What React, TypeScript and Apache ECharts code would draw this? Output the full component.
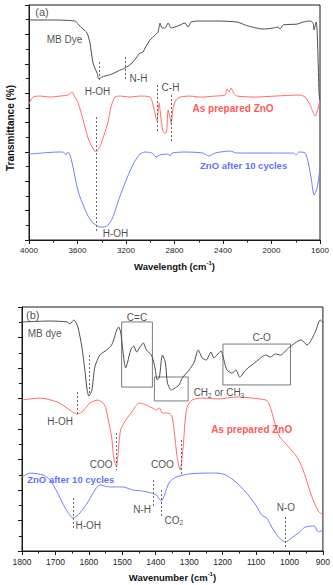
import React, { useEffect, useRef } from "react";
import * as echarts from "echarts";

const FONT = '"Liberation Sans", Arial, Helvetica, sans-serif';

// ---------- Panel (a): wavelength (cm-1) vs transmittance (a.u.) ----------
const mbDyeA: [number, number][] = [
  [4000, 14.98], [3827, 14.98], [3620, 14.91], [3596, 14.7], [3554, 14.36], [3521, 14.09],
  [3497, 13.41], [3472, 12.05], [3439, 11.37], [3422, 10.96], [3398, 11.1], [3373, 11.16],
  [3315, 11.3], [3266, 11.5], [3208, 11.71], [3183, 11.84], [3150, 12.05], [3117, 12.39],
  [3084, 12.73], [3060, 12.8], [3043, 13.07], [3002, 13.61], [2960, 13.95], [2936, 14.16],
  [2919, 14.77], [2903, 14.43], [2878, 14.43], [2853, 14.77], [2828, 14.43], [2796, 14.5],
  [2754, 14.64], [2713, 14.77], [2688, 14.5], [2663, 14.84], [2589, 14.91], [2465, 14.91],
  [2284, 14.84], [2218, 14.64], [2160, 14.5], [2069, 14.36], [1987, 14.43], [1946, 14.5],
  [1929, 14.36], [1904, 14.64], [1789, 14.7], [1739, 14.84], [1682, 14.91], [1657, 14.77],
  [1649, 14.3], [1632, 14.84], [1624, 14.3], [1616, 12.25], [1607, 9.87], [1600, 9.53],
];
const zno0A: [number, number][] = [
  [4000, 9.26], [3967, 9.73], [3909, 9.8], [3827, 9.73], [3744, 9.8], [3678, 9.87],
  [3645, 10.07], [3621, 9.73], [3596, 9.33], [3571, 8.71], [3538, 7.69], [3513, 6.94],
  [3480, 6.33], [3447, 5.99], [3414, 6.4], [3381, 7.15], [3348, 8.03], [3324, 9.05],
  [3291, 9.73], [3249, 9.8], [3167, 9.73], [3084, 9.8], [3002, 9.73], [2977, 9.19],
  [2952, 8.3], [2944, 8.1], [2936, 8.71], [2927, 9.33], [2919, 8.85], [2903, 7.76],
  [2886, 7.28], [2870, 7.28], [2861, 7.83], [2853, 8.85], [2837, 8.3], [2828, 7.96],
  [2812, 8.98], [2787, 9.53], [2754, 9.73], [2672, 9.8], [2589, 9.73], [2465, 9.8],
  [2383, 9.87], [2366, 10.28], [2350, 10.07], [2333, 10.35], [2309, 9.94], [2284, 9.8],
  [2136, 9.73], [1971, 9.8], [1764, 9.87], [1723, 9.73], [1690, 9.33], [1665, 8.85],
  [1640, 8.44], [1624, 8.71], [1607, 9.26], [1600, 9.53],
];
const zno10A: [number, number][] = [
  [4000, 5.85], [3893, 5.92], [3761, 5.99], [3720, 5.99], [3695, 5.79], [3678, 5.99],
  [3662, 5.79], [3637, 4.97], [3604, 3.61], [3579, 2.93], [3546, 2.25], [3513, 1.63],
  [3480, 1.23], [3447, 1.02], [3414, 0.88], [3381, 0.88], [3348, 1.02], [3315, 1.43],
  [3282, 2.18], [3249, 3.0], [3208, 3.88], [3167, 4.7], [3126, 5.38], [3084, 5.85],
  [3043, 5.99], [2985, 5.92], [2952, 5.65], [2919, 5.79], [2853, 5.85], [2837, 5.72],
  [2820, 5.92], [2713, 5.99], [2565, 5.92], [2515, 5.72], [2466, 5.92], [2342, 6.06],
  [2284, 5.92], [2012, 5.92], [1822, 5.92], [1797, 5.79], [1772, 5.99], [1723, 5.92],
  [1698, 5.31], [1673, 4.22], [1649, 3.06], [1624, 3.54], [1600, 4.9],
];
// dotted guide lines: [wavenumber, t from, t to]
const guidesA: [number, number, number][] = [
  [3422, 12.12, 10.75], [3208, 12.46, 10.89], [2944, 10.55, 7.35], [2828, 9.87, 6.67],
  [3443, 8.37, 0.54],
];
const xTicksA = { min: 1600, max: 4000, step: 400 };

// ---------- Panel (b): wavenumber (cm-1) ----------
const mbDyeB: [number, number][] = [
  [1800, 15.02], [1716, 15.08], [1665, 15.02], [1657, 14.89], [1645, 15.15], [1633, 14.69],
  [1621, 13.38], [1612, 11.87], [1606, 10.69], [1600, 10.16], [1591, 10.56], [1582, 12.07],
  [1567, 12.85], [1547, 13.18], [1532, 13.51], [1523, 14.03], [1517, 14.49], [1511, 14.69],
  [1505, 14.36], [1502, 13.84], [1496, 12.72], [1490, 12.0], [1484, 12.39], [1475, 13.18],
  [1466, 13.44], [1457, 13.05], [1449, 13.31], [1437, 13.64], [1428, 13.18], [1413, 12.85],
  [1404, 12.2], [1395, 11.21], [1389, 11.41], [1380, 12.85], [1371, 12.33], [1365, 11.02],
  [1353, 10.56], [1338, 10.75], [1330, 10.89], [1321, 11.34], [1300, 11.87], [1285, 12.39],
  [1273, 13.18], [1261, 12.66], [1249, 12.52], [1235, 13.05], [1226, 12.66], [1217, 12.85],
  [1205, 13.11], [1196, 12.52], [1187, 11.87], [1172, 11.67], [1160, 11.87], [1149, 11.41],
  [1131, 11.87], [1101, 12.39], [1071, 12.85], [1057, 12.72], [1042, 12.92], [1027, 12.85],
  [1003, 13.31], [965, 13.84], [947, 13.51], [923, 14.36], [908, 15.15], [900, 14.95],
];
const zno0B: [number, number][] = [
  [1800, 9.9], [1746, 10.03], [1695, 9.77], [1657, 9.25], [1636, 8.98], [1621, 9.11],
  [1597, 9.7], [1573, 9.9], [1553, 9.57], [1544, 8.79], [1532, 7.48], [1526, 6.16],
  [1520, 5.64], [1517, 5.57], [1511, 6.82], [1505, 7.93], [1493, 8.46], [1472, 9.11],
  [1449, 9.7], [1428, 9.57], [1410, 9.38], [1398, 9.25], [1389, 9.38], [1380, 9.05],
  [1368, 9.05], [1353, 8.92], [1345, 7.93], [1336, 6.16], [1327, 5.31], [1318, 6.82],
  [1312, 8.59], [1306, 9.44], [1291, 9.9], [1261, 10.03], [1211, 9.97], [1160, 10.1],
  [1113, 10.03], [1071, 9.9], [1062, 9.7], [1053, 9.11], [1038, 7.93], [1027, 7.41],
  [1018, 7.21], [1003, 6.82], [982, 6.3], [968, 5.77], [953, 4.92], [935, 3.67],
  [914, 2.62], [900, 2.36],
];
const zno10B: [number, number][] = [
  [1800, 4.85], [1775, 5.11], [1737, 4.98], [1716, 4.66], [1695, 3.87], [1671, 2.82],
  [1657, 2.36], [1648, 2.16], [1636, 2.3], [1627, 2.49], [1603, 3.21], [1582, 4.0],
  [1567, 4.33], [1538, 4.2], [1499, 4.2], [1469, 4.0], [1440, 3.93], [1413, 3.8],
  [1398, 3.67], [1392, 3.48], [1383, 3.28], [1374, 3.67], [1359, 4.52], [1339, 4.85],
  [1300, 5.05], [1249, 5.11], [1217, 5.11], [1190, 4.98], [1160, 4.52], [1131, 3.87],
  [1101, 3.02], [1083, 2.36], [1068, 2.16], [1053, 1.57], [1033, 0.92], [1012, 0.59],
  [994, 0.85], [973, 1.18], [953, 1.57], [926, 1.64], [914, 1.25], [900, 1.38],
];
const guidesB: [number, number, number][] = [
  [1600, 12.85, 10.23], [1636, 10.43, 8.85], [1517, 7.74, 5.31], [1325, 7.28, 5.05],
  [1648, 3.48, 1.38], [1407, 4.66, 2.89], [1383, 4.0, 2.23], [1012, 2.23, 0.2],
];
// boxes: [wn left, wn right, t top, t bottom]
const boxesB: [number, number, number, number][] = [
  [1502, 1410, 15.02, 10.75],
  [1404, 1303, 11.41, 9.84],
  [1199, 997, 13.57, 10.89],
];
const xTicksB = { min: 900, max: 1800, step: 100 };

type Ann = { text: string; wn: number; t: number; color?: string; bold?: boolean; size?: number };
const RED_TXT = "#ff2b2b";
const BLUE_TXT = "#3347ff";
const annA: Ann[] = [
  { text: "(a)", wn: 3893, t: 15.49, size: 11 },
  { text: "MB Dye", wn: 3707, t: 13.68 },
  { text: "H-OH", wn: 3435, t: 10.14 },
  { text: "N-H", wn: 3097, t: 10.99 },
  { text: "C-H", wn: 2833, t: 10.38 },
  { text: "As prepared ZnO", wn: 2317, t: 8.92, color: RED_TXT, bold: true },
  { text: "ZnO after 10 cycles", wn: 2230, t: 5.04, color: BLUE_TXT, bold: true, size: 9.5 },
  { text: "H-OH", wn: 3286, t: 0.41 },
];
const annB: Ann[] = [
  { text: "(b)", wn: 1768, t: 15.48, size: 11 },
  { text: "MB dye", wn: 1732, t: 14.29 },
  { text: "C=C", wn: 1456, t: 15.31 },
  { text: "C-O", wn: 1083, t: 14.0 },
  { text: "{m|CH}{sub|2}{m| or CH}{sub|3}", wn: 1211, t: 10.39 },
  { text: "H-OH", wn: 1686, t: 8.52 },
  { text: "COO", wn: 1563, t: 5.64 },
  { text: "COO", wn: 1380, t: 5.64 },
  { text: "As prepared ZnO", wn: 1113, t: 8.0, color: RED_TXT, bold: true },
  { text: "ZnO after 10 cycles", wn: 1654, t: 4.72, color: BLUE_TXT, bold: true, size: 9.5 },
  { text: "H-OH", wn: 1602, t: 1.67 },
  { text: "N-H", wn: 1441, t: 2.75 },
  { text: "{m|CO}{sub|2}", wn: 1346, t: 2.03 },
  { text: "N-O", wn: 1011, t: 2.85 },
];

const BLACK_LINE = "#4d4d4d";
const RED_LINE = "#ff6b6b";
const BLUE_LINE = "#6f7fff";
const AXIS = "#1a1a1a";

function xAxisCfg(grid: number, ticks: { min: number; max: number; step: number }, name: string, fs: number) {
  return {
    gridIndex: grid,
    type: "value",
    min: ticks.min,
    max: ticks.max,
    interval: ticks.step,
    inverse: true,
    name,
    nameLocation: "middle",
    nameGap: 20,
    nameTextStyle: {
      rich: {
        n: { fontFamily: FONT, fontSize: 9.5, fontWeight: "bold", color: "#111", lineHeight: 12 },
        s: { fontFamily: FONT, fontSize: 6, fontWeight: "bold", color: "#111", verticalAlign: "top", lineHeight: 12 },
      },
    },
    axisLine: { show: true, onZero: false, lineStyle: { color: AXIS, width: 1 } },
    axisTick: { show: true, inside: false, length: 4, lineStyle: { color: AXIS } },
    minorTick: { show: true, splitNumber: 2, length: 2.5, lineStyle: { color: AXIS } },
    splitLine: { show: false },
    minorSplitLine: { show: false },
    axisLabel: {
      show: true,
      margin: 6,
      fontFamily: FONT,
      fontSize: fs,
      color: "#222",
      formatter: (v: number) => String(v),
    },
  };
}

function yAxisCfg(grid: number) {
  return {
    gridIndex: grid,
    type: "value",
    min: 0,
    max: 16,
    interval: 2,
    axisLine: { show: true, onZero: false, lineStyle: { color: AXIS, width: 1 } },
    axisTick: { show: true, inside: false, length: 4, lineStyle: { color: AXIS } },
    minorTick: { show: true, splitNumber: 2, length: 3, lineStyle: { color: AXIS } },
    splitLine: { show: false },
    minorSplitLine: { show: false },
    axisLabel: { show: false },
  };
}

function lineSeries(idx: number, data: [number, number][], color: string, extra: any = {}) {
  return {
    type: "line",
    xAxisIndex: idx,
    yAxisIndex: idx,
    data,
    showSymbol: false,
    smooth: 0.25,
    lineStyle: { color, width: 1 },
    itemStyle: { color },
    silent: true,
    z: 3,
    ...extra,
  };
}

function guideMarks(guides: [number, number, number][]) {
  return {
    silent: true,
    symbol: ["none", "none"],
    label: { show: false },
    lineStyle: { color: "#666", type: [2, 2], width: 1 },
    data: guides.map((g) => [{ coord: [g[0], g[1]] }, { coord: [g[0], g[2]] }]),
  };
}

function annSeries(idx: number, anns: Ann[]) {
  return {
    type: "scatter",
    xAxisIndex: idx,
    yAxisIndex: idx,
    symbolSize: 0,
    silent: true,
    z: 10,
    data: anns.map((a) => ({
      value: [a.wn, a.t],
      label: {
        show: true,
        position: "inside",
        formatter: a.text,
        color: a.color || "#1a1a1a",
        fontFamily: FONT,
        fontWeight: a.bold ? "bold" : "normal",
        fontSize: a.size || 10,
        rich: {
          m: { fontFamily: FONT, fontSize: 10, color: "#1a1a1a" },
          sub: { fontFamily: FONT, fontSize: 6.5, color: "#1a1a1a", verticalAlign: "bottom", padding: [5, 0, 0, 0] },
        },
      },
    })),
  };
}

export default function App() {
  const ref = useRef<HTMLDivElement>(null);
  useEffect(() => {
    if (!ref.current) return;
    const chart = echarts.init(ref.current, undefined, { renderer: "svg" });
    chart.setOption({
      animation: false,
      backgroundColor: "#ffffff",
      textStyle: { fontFamily: FONT },
      grid: [
        { left: 29, top: 5, width: 291, height: 235, show: true, borderColor: AXIS, borderWidth: 1, backgroundColor: "transparent" },
        { left: 22, top: 307, width: 302, height: 244, show: true, borderColor: AXIS, borderWidth: 1, backgroundColor: "transparent" },
      ],
      xAxis: [
        xAxisCfg(0, xTicksA, "{n|Wavelength (cm}{s|-1}{n|)}", 8),
        xAxisCfg(1, xTicksB, "{n|Wavenumber (cm}{s|-1}{n|)}", 8.5),
      ],
      yAxis: [yAxisCfg(0), yAxisCfg(1)],
      graphic: [
        {
          type: "text",
          x: 10,
          y: 128,
          rotation: Math.PI / 2,
          style: {
            text: "Transmittance (%)",
            fontFamily: FONT,
            fontSize: 10,
            fontWeight: "bold",
            fill: "#111",
            align: "center",
            verticalAlign: "middle",
          },
        },
      ],
      series: [
        lineSeries(0, mbDyeA, BLACK_LINE, { markLine: guideMarks(guidesA) }),
        lineSeries(0, zno0A, RED_LINE),
        lineSeries(0, zno10A, BLUE_LINE),
        lineSeries(1, mbDyeB, BLACK_LINE, {
          markLine: guideMarks(guidesB),
          markArea: {
            silent: true,
            itemStyle: { color: "rgba(0,0,0,0)", borderColor: "#7a7a7a", borderWidth: 1 },
            label: { show: false },
            data: boxesB.map((b) => [{ coord: [b[0], b[2]] }, { coord: [b[1], b[3]] }]),
          },
        }),
        lineSeries(1, zno0B, RED_LINE),
        lineSeries(1, zno10B, BLUE_LINE),
        annSeries(0, annA),
        annSeries(1, annB),
      ],
    });
    return () => chart.dispose();
  }, []);
  return (
    <div
      ref={ref}
      style={{ position: "fixed", left: 0, top: 0, width: 333, height: 585, background: "#fff" }}
    />
  );
}
